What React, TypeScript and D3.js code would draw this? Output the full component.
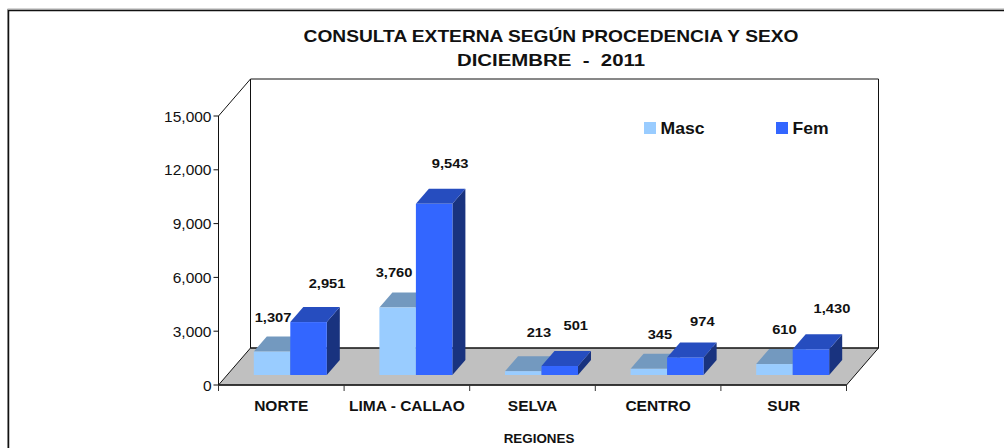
import React from "react";
import * as d3 from "d3";

const categories = ["NORTE", "LIMA - CALLAO", "SELVA", "CENTRO", "SUR"];
const masc = [1307, 3760, 213, 345, 610];
const fem = [2951, 9543, 501, 974, 1430];
const yTicks = [0, 3000, 6000, 9000, 12000, 15000];
const mascLabelShift = [[1, -30], [-3.6, -30.6], [15.7, -34], [11.1, -30], [10, -30]];
const femLabelShift = [[18.5, -34], [16, -36], [16, -36], [17, -31.5], [21, -36]];

const FONT = "'Liberation Sans', Arial, sans-serif";
const INK = "#111";
const left = 218.5, right = 846.5, floorY = 385, topY = 116;
const wallDx = 32, wallDy = 37;
const barDx = 13, barDy = 15, baseY = 375, baseShift = 9;

const x = d3.scaleBand<string>().domain(categories).range([left, right]);
const inner = d3.scaleBand<string>().domain(["Masc", "Fem"]).range([0, 73]);
const y = d3.scaleLinear().domain([0, 15000]).range([floorY, topY]);
const h = (v: number) => y(0) - y(v);
const fmt = d3.format(",");
const path = (pts: number[][]) => (d3.line()(pts as [number, number][]) as string) + "Z";

function T({ x: px, y: py, sx = 1, size, anchor = "middle", weight = "bold", children }: any) {
  return (
    <text
      transform={`translate(${px},${py}) scale(${sx},1)`}
      textAnchor={anchor}
      fontFamily={FONT}
      fontWeight={weight}
      fontSize={size}
      fill={INK}
      xmlSpace="preserve"
    >
      {children}
    </text>
  );
}

function Bar({ x0, w, v, front, top, side }: any) {
  const t = baseY - h(v);
  const x1 = x0 + w;
  return (
    <g>
      <path d={path([[x1, baseY], [x1 + barDx, baseY - barDy], [x1 + barDx, t - barDy], [x1, t]])} fill={side} />
      <path d={path([[x0, t], [x0 + barDx, t - barDy], [x1 + barDx, t - barDy], [x1, t]])} fill={top} />
      <rect x={x0} y={t} width={w} height={h(v)} fill={front} />
    </g>
  );
}

export default function App() {
  return (
    <svg width={1004} height={448} style={{ position: "absolute", left: 0, top: 0, background: "#fff" }}>
      <path d="M1004,9H7.5V448" fill="none" stroke="#aaa" strokeWidth={1} />
      <path d="M1004,10.5H8.5V448" fill="none" stroke="#111" strokeWidth={1.5} />
      <T x={551} y={42} size={17} sx={1.128}>CONSULTA EXTERNA SEGÚN PROCEDENCIA Y SEXO</T>
      <T x={551} y={66} size={17} sx={1.2}>DICIEMBRE  -  2011</T>

      {/* floor */}
      <path d={path([[left, floorY], [left + wallDx, floorY - wallDy], [right + wallDx, floorY - wallDy], [right, floorY]])} fill="#c0c0c0" stroke="#111" strokeWidth={1} />
      {/* walls */}
      <path d={`M${left},${floorY}V${topY}L${left + wallDx},${topY - wallDy}H${right + wallDx}V${floorY - wallDy}H${left + wallDx}V${topY - wallDy}`} fill="none" stroke="#111" strokeWidth={1} />
      <line x1={left} x2={right} y1={floorY} y2={floorY} stroke="#222" strokeWidth={1.5} />

      {yTicks.map((t) => (
        <g key={t}>
          <line x1={left - 5} x2={left} y1={y(t)} y2={y(t)} stroke="#111" />
          <T x={left - 7} y={y(t) + 5.5} size={15.5} anchor="end" weight="normal">{fmt(t)}</T>
        </g>
      ))}
      {[...categories.map((c) => x(c) as number), right].map((p) => (
        <line key={p} x1={p} x2={p} y1={floorY} y2={floorY + 6} stroke="#333" />
      ))}

      {categories.map((c, i) => {
        const start = (x(c) as number) + x.bandwidth() / 2 + baseShift - 36.5;
        return (
          <g key={c}>
            <Bar x0={start + (inner("Masc") as number)} w={inner.bandwidth()} v={masc[i]} front="#99ccff" top="#7399bf" side="#5d7c9c" />
            <Bar x0={start + (inner("Fem") as number)} w={inner.bandwidth()} v={fem[i]} front="#3366ff" top="#264dbf" side="#19337f" />
          </g>
        );
      })}
      {categories.map((c, i) => {
        const start = (x(c) as number) + x.bandwidth() / 2 + baseShift - 36.5;
        const bw = inner.bandwidth();
        const mx = start + (inner("Masc") as number) + bw / 2 + mascLabelShift[i][0];
        const fx = start + (inner("Fem") as number) + bw / 2 + femLabelShift[i][0];
        return (
          <g key={c}>
            <T x={mx} y={baseY - h(masc[i]) + mascLabelShift[i][1]} size={13} sx={1.13}>{fmt(masc[i])}</T>
            <T x={fx} y={baseY - h(fem[i]) + femLabelShift[i][1]} size={13} sx={1.13}>{fmt(fem[i])}</T>
            <T x={(x(c) as number) + x.bandwidth() / 2} y={411} size={14.5} sx={1.07}>{c}</T>
          </g>
        );
      })}
      <T x={539} y={443} size={13} sx={1.03}>REGIONES</T>

      <rect x={644} y={122} width={12} height={12} fill="#99ccff" />
      <T x={660.5} y={134} size={16} sx={1.1} anchor="start">Masc</T>
      <rect x={776} y={122} width={12} height={12} fill="#3366ff" />
      <T x={792.5} y={134} size={16} sx={1.1} anchor="start">Fem</T>
    </svg>
  );
}
